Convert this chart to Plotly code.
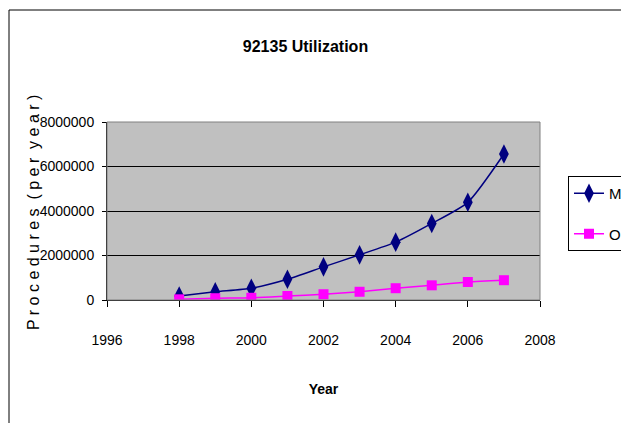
import plotly.graph_objects as go

years = [1998, 1999, 2000, 2001, 2002, 2003, 2004, 2005, 2006, 2007]
md_values = [180000, 370000, 530000, 930000, 1490000, 2030000, 2600000, 3440000, 4390000, 6560000]
od_values = [30000, 80000, 100000, 180000, 260000, 370000, 530000, 660000, 810000, 890000]
x_ticks = [1996, 1998, 2000, 2002, 2004, 2006, 2008]
y_ticks = [0, 2000000, 4000000, 6000000, 8000000]

FONT = "Liberation Sans, Arial, sans-serif"

W, H = 621, 423
L, R, T, B = 107, 81, 122, 123
pw, ph = W - L - R, H - T - B

def px(xp):
    return (xp - L) / pw

def py(yp):
    return (H - B - yp) / ph

fig = go.Figure()
fig.add_trace(go.Scatter(
    x=years, y=md_values, name="MD", mode="lines+markers",
    line=dict(color="#000080", width=1.5, shape="spline", smoothing=0.6),
    marker=dict(symbol="diamond-tall", size=14, color="#000080"),
    legendgroup="a",
))
fig.add_trace(go.Scatter(
    x=years, y=od_values, name="OD", mode="lines+markers",
    line=dict(color="#FF00FF", width=1.5, shape="spline", smoothing=0.6),
    marker=dict(symbol="square", size=10, color="#FF00FF"),
    legendgroup="b",
))

fig.update_layout(
    width=W, height=H,
    margin=dict(l=L, r=R, t=T, b=B, autoexpand=False),
    paper_bgcolor="white",
    plot_bgcolor="#C0C0C0",
    font=dict(family=FONT, size=14, color="black"),
    title=dict(text="<b>92135 Utilization</b>", x=px(320), xanchor="center",
               y=1 - 46 / H, yanchor="middle", font=dict(size=16, family=FONT)),
    showlegend=True,
    legend=dict(x=px(568), xanchor="left", y=py(176), yanchor="top",
                bgcolor="white", bordercolor="black", borderwidth=1,
                tracegroupgap=18, font=dict(size=15, family=FONT),
                itemwidth=30),
    shapes=[
        dict(type="rect", xref="paper", yref="paper",
             x0=px(9), x1=px(640), y0=py(440), y1=py(10),
             line=dict(color="black", width=1), layer="below"),
        dict(type="rect", xref="paper", yref="paper",
             x0=0, x1=1, y0=0, y1=1,
             line=dict(color="#808080", width=1), layer="above"),
    ],
    annotations=[
        dict(text="P r o c e d u r e s  ( p e r  y e a r )", textangle=-90,
             xref="paper", yref="paper", x=px(33), y=py(213),
             xanchor="center", yanchor="middle", showarrow=False,
             font=dict(size=16, family=FONT)),
    ],
)
fig.update_xaxes(
    range=[1996, 2008], tickvals=x_ticks, ticktext=[str(v) for v in x_ticks],
    showgrid=False, zeroline=False, showline=True, linecolor="black", linewidth=1,
    ticks="outside", ticklen=6, tickcolor="black", ticklabelstandoff=21,
    tickfont=dict(size=14),
    title=dict(text="<b>Year</b>", font=dict(size=14), standoff=37),
)
fig.update_yaxes(
    range=[0, 8000000], tickvals=y_ticks, ticktext=[str(v) for v in y_ticks],
    showgrid=True, gridcolor="black", gridwidth=1, zeroline=False,
    showline=True, linecolor="black", linewidth=1,
    ticks="outside", ticklen=4, tickcolor="black", ticklabelstandoff=5,
    tickfont=dict(size=14),
)

fig.write_html("out.html")
